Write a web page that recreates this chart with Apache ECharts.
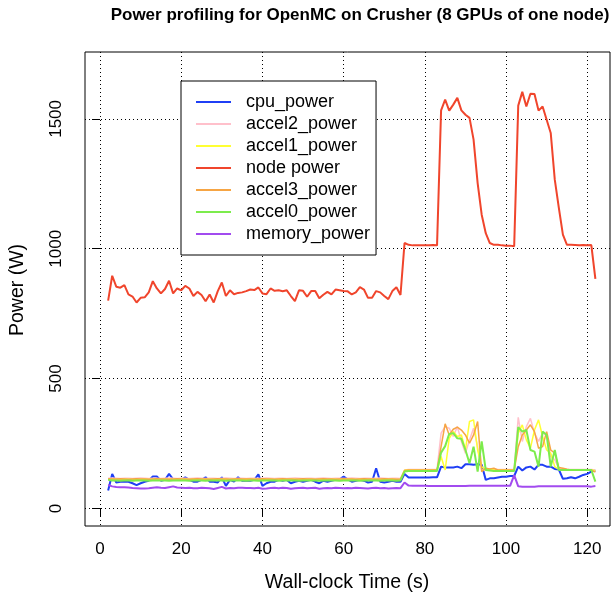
<!DOCTYPE html>
<html>
<head>
<meta charset="utf-8">
<script src="https://cdn.jsdelivr.net/npm/echarts@6/dist/echarts.min.js"></script>
<style>
html,body{margin:0;padding:0;background:#fff;}
#chart{width:614px;height:598px;}
</style>
</head>
<body>
<div id="chart"></div>
<script>
// ---- data ----
const times = [2,3,4,5,6,7,8,9,10,11,12,13,14,15,16,17,18,19,20,21,22,23,24,25,26,27,28,29,30,31,32,33,34,35,36,37,38,39,40,41,42,43,44,45,46,47,48,49,50,51,52,53,54,55,56,57,58,59,60,61,62,63,64,65,66,67,68,69,70,71,72,73,74,75,76,77,78,79,80,81,82,83,84,85,86,87,88,89,90,91,92,93,94,95,96,97,98,99,100,101,102,103,104,105,106,107,108,109,110,111,112,113,114,115,116,117,118,119,120,121,122];

const cpuPower = [69,133,100,103,103,103,97,90,97,103,107,123,123,107,110,133,112,110,110,120,110,103,103,110,120,103,103,100,120,87,110,103,120,107,107,
107,110,131,87,97,103,103,110,107,110,97,103,107,103,107,110,103,97,107,103,107,110,112,123,112,103,107,110,107,100,103,155,103,100,103,107,103,103,
133,119,119,119,119,119,119,120,120,
161,158,158,158,161,155,170,170,168,170,168,
110,116,116,119,122,122,125,125,
161,146,158,161,150,168,168,161,161,152,150,114,116,120,116,122,129,133,142,146];

const accel2Power = [116,117,116,115,116,116,115,116,117,116,115,116,116,115,116,117,116,115,116,116,115,116,117,116,115,116,116,115,116,117,116,115,116,116,115,
116,116,115,116,117,116,115,116,116,115,116,117,116,115,116,116,115,116,117,116,115,116,116,115,116,117,116,115,116,116,115,116,117,116,115,116,116,115,
148,150,150,150,150,150,150,150,150,
290,315,309,277,315,258,213,264,309,238,148,150,150,150,150,150,150,150,150,
351,258,315,347,290,258,290,283,200,187,155,152,150,150,150,150,150,150,150,148];

const accel1Power = [111,112,112,111,112,112,111,112,112,112,111,112,112,111,112,112,111,112,112,112,111,112,112,111,112,112,111,112,112,112,111,112,112,111,112,
112,112,111,112,112,112,111,112,112,111,112,112,111,112,112,112,111,112,112,111,112,112,111,112,112,112,111,112,112,111,112,112,111,112,112,112,111,112,
147,148,148,148,148,148,148,148,148,
200,148,270,296,277,283,225,335,341,225,161,148,152,148,148,148,148,148,148,
290,322,264,232,302,341,277,225,213,161,150,148,148,148,148,148,148,148,148,145];

const nodePower = [800,896,854,850,860,824,816,793,811,813,832,875,847,828,845,877,828,847,840,857,847,818,834,822,798,824,793,837,870,818,840,825,830,832,837,
843,841,851,828,825,847,838,840,836,840,818,798,840,838,815,837,837,809,823,834,824,843,840,837,836,824,832,852,843,811,811,837,832,818,806,837,852,822,
1022,1015,1013,1013,1013,1013,1013,1014,1013,
1533,1574,1532,1555,1581,1533,1516,1504,1420,1253,1131,1060,1022,
1015,1015,1013,1012,1012,1010,
1551,1604,1548,1597,1596,1532,1548,1497,1446,1266,1157,1054,1015,
1015,1014,1013,1014,1013,1014,
884];

const accel3Power = [114,113,113,114,113,112,113,114,113,113,112,113,114,113,113,112,113,114,113,113,112,113,114,113,113,112,113,114,113,113,112,113,114,113,113,
113,112,113,114,113,113,112,113,114,113,113,112,113,114,113,113,112,113,114,113,113,112,113,114,113,113,112,113,114,113,113,112,113,114,113,113,112,113,
146,148,148,148,148,148,148,148,148,
238,326,283,305,313,302,283,251,283,335,142,155,152,155,148,148,148,148,148,
238,283,302,322,296,232,238,296,225,213,158,155,151,148,148,148,148,148,148,140];

const accel0Power = [110,108,108,107,108,108,107,108,108,108,107,108,108,108,108,107,108,108,108,108,107,108,108,108,107,108,108,108,108,107,108,108,108,108,107,
108,108,107,108,108,108,108,107,108,108,108,108,107,108,108,108,108,107,108,108,108,108,107,108,108,108,108,107,108,108,108,108,107,108,108,108,107,108,
142,144,144,144,144,144,144,144,144,
215,240,287,290,270,268,225,174,238,142,258,148,146,144,144,144,144,144,144,
313,296,302,225,219,161,296,283,161,225,148,148,148,148,148,148,148,148,148,103];

const memoryPower = [90,85,83,82,82,81,79,78,77,77,78,80,82,80,79,82,85,81,80,79,80,78,78,80,79,78,75,79,83,77,79,78,80,80,79,
79,78,80,76,77,79,80,78,80,79,76,78,79,80,78,79,80,76,78,79,78,80,79,78,79,78,80,79,78,77,79,80,78,79,77,78,79,78,
100,88,87,87,87,87,86,86,86,86,86,86,86,86,86,86,87,87,87,87,87,87,87,87,87,87,87,
128,
85,84,84,84,84,85,85,85,85,85,85,85,85,85,85,85,85,85,84,86];

const xTicks = [0, 20, 40, 60, 80, 100, 120];
const yTicks = [0, 500, 1000, 1500];

const seriesNames = ['cpu_power','accel2_power','accel1_power','node power','accel3_power','accel0_power','memory_power'];
const seriesValues = [cpuPower, accel2Power, accel1Power, nodePower, accel3Power, accel0Power, memoryPower];
const seriesColors = ['#1f3ff5','#ffc0cb','#ffff33','#f0452c','#f6a544','#7cec4c','#a24bef'];
const seriesWidths = [2, 1.5, 1.5, 2, 1.5, 2, 2];

const titleText = 'Power profiling for OpenMC on Crusher (8 GPUs of one node)';
const xName = 'Wall-clock Time (s)';
const yName = 'Power (W)';

// ---- chart ----
const FONT = "'Liberation Sans', Arial, Helvetica, sans-serif";
const LEGEND_LINE = 'path://M0,0 L35,0 L35,2 L0,2 Z';
const chart = echarts.init(document.getElementById('chart'), null, {renderer: 'canvas'});

const series = seriesNames.map((name, i) => ({
  name: name,
  type: 'line',
  data: times.map((t, j) => [t, seriesValues[i][j]]),
  symbol: 'none',
  showSymbol: false,
  color: seriesColors[i],
  lineStyle: {color: seriesColors[i], width: seriesWidths[i]},
  emphasis: {disabled: true},
  animation: false
}));

chart.setOption({
  animation: false,
  backgroundColor: '#ffffff',
  textStyle: {fontFamily: FONT},
  grid: {left: 85, right: 4, top: 52, bottom: 72, show: true, borderColor: '#000', borderWidth: 1, backgroundColor: 'transparent'},
  xAxis: {
    type: 'value', min: -3.7, max: 125.6,
    axisLine: {show: false},
    axisTick: {show: true, inside: false, length: 8, lineStyle: {color: '#000', width: 1}, customValues: xTicks},
    axisLabel: {show: true, customValues: xTicks, margin: 15, color: '#000', fontSize: 17, fontFamily: FONT, formatter: v => String(v)},
    splitLine: {show: true, lineStyle: {color: '#000', width: 1, type: [1, 3]}}
  },
  yAxis: {
    type: 'value', min: -67.6, max: 1757.6,
    axisLine: {show: false},
    axisTick: {show: true, inside: false, length: 8, lineStyle: {color: '#000', width: 1}, customValues: yTicks},
    axisLabel: {show: true, customValues: yTicks, rotate: 90, margin: 20, color: '#000', fontSize: 17, fontFamily: FONT, formatter: v => String(v)},
    splitLine: {show: true, lineStyle: {color: '#000', width: 1, type: [1, 3]}}
  },
  legend: {
    show: true,
    orient: 'vertical',
    left: 181, top: 81,
    padding: [10, 6, 10, 15],
    itemGap: 0,
    itemWidth: 35,
    itemHeight: 22,
    icon: LEGEND_LINE,
    symbolKeepAspect: true,
    borderColor: '#000', borderWidth: 1, borderRadius: 0,
    backgroundColor: '#fff',
    selectedMode: false,
    data: seriesNames,
    textStyle: {fontSize: 18, color: '#000', fontFamily: FONT, lineHeight: 22, padding: [0, 0, 0, 10]}
  },
  graphic: [
    {type: 'text', x: 360, y: 15, style: {text: titleText, textAlign: 'center', textVerticalAlign: 'middle', font: 'bold 17px ' + FONT, fill: '#000'}},
    {type: 'text', x: 347, y: 583, style: {text: xName, textAlign: 'center', textVerticalAlign: 'middle', font: '19.5px ' + FONT, fill: '#000'}},
    {type: 'text', x: 18, y: 290, rotation: Math.PI / 2, style: {text: yName, textAlign: 'center', textVerticalAlign: 'middle', font: '19.5px ' + FONT, fill: '#000'}}
  ],
  series: series
});
</script>
</body>
</html>
